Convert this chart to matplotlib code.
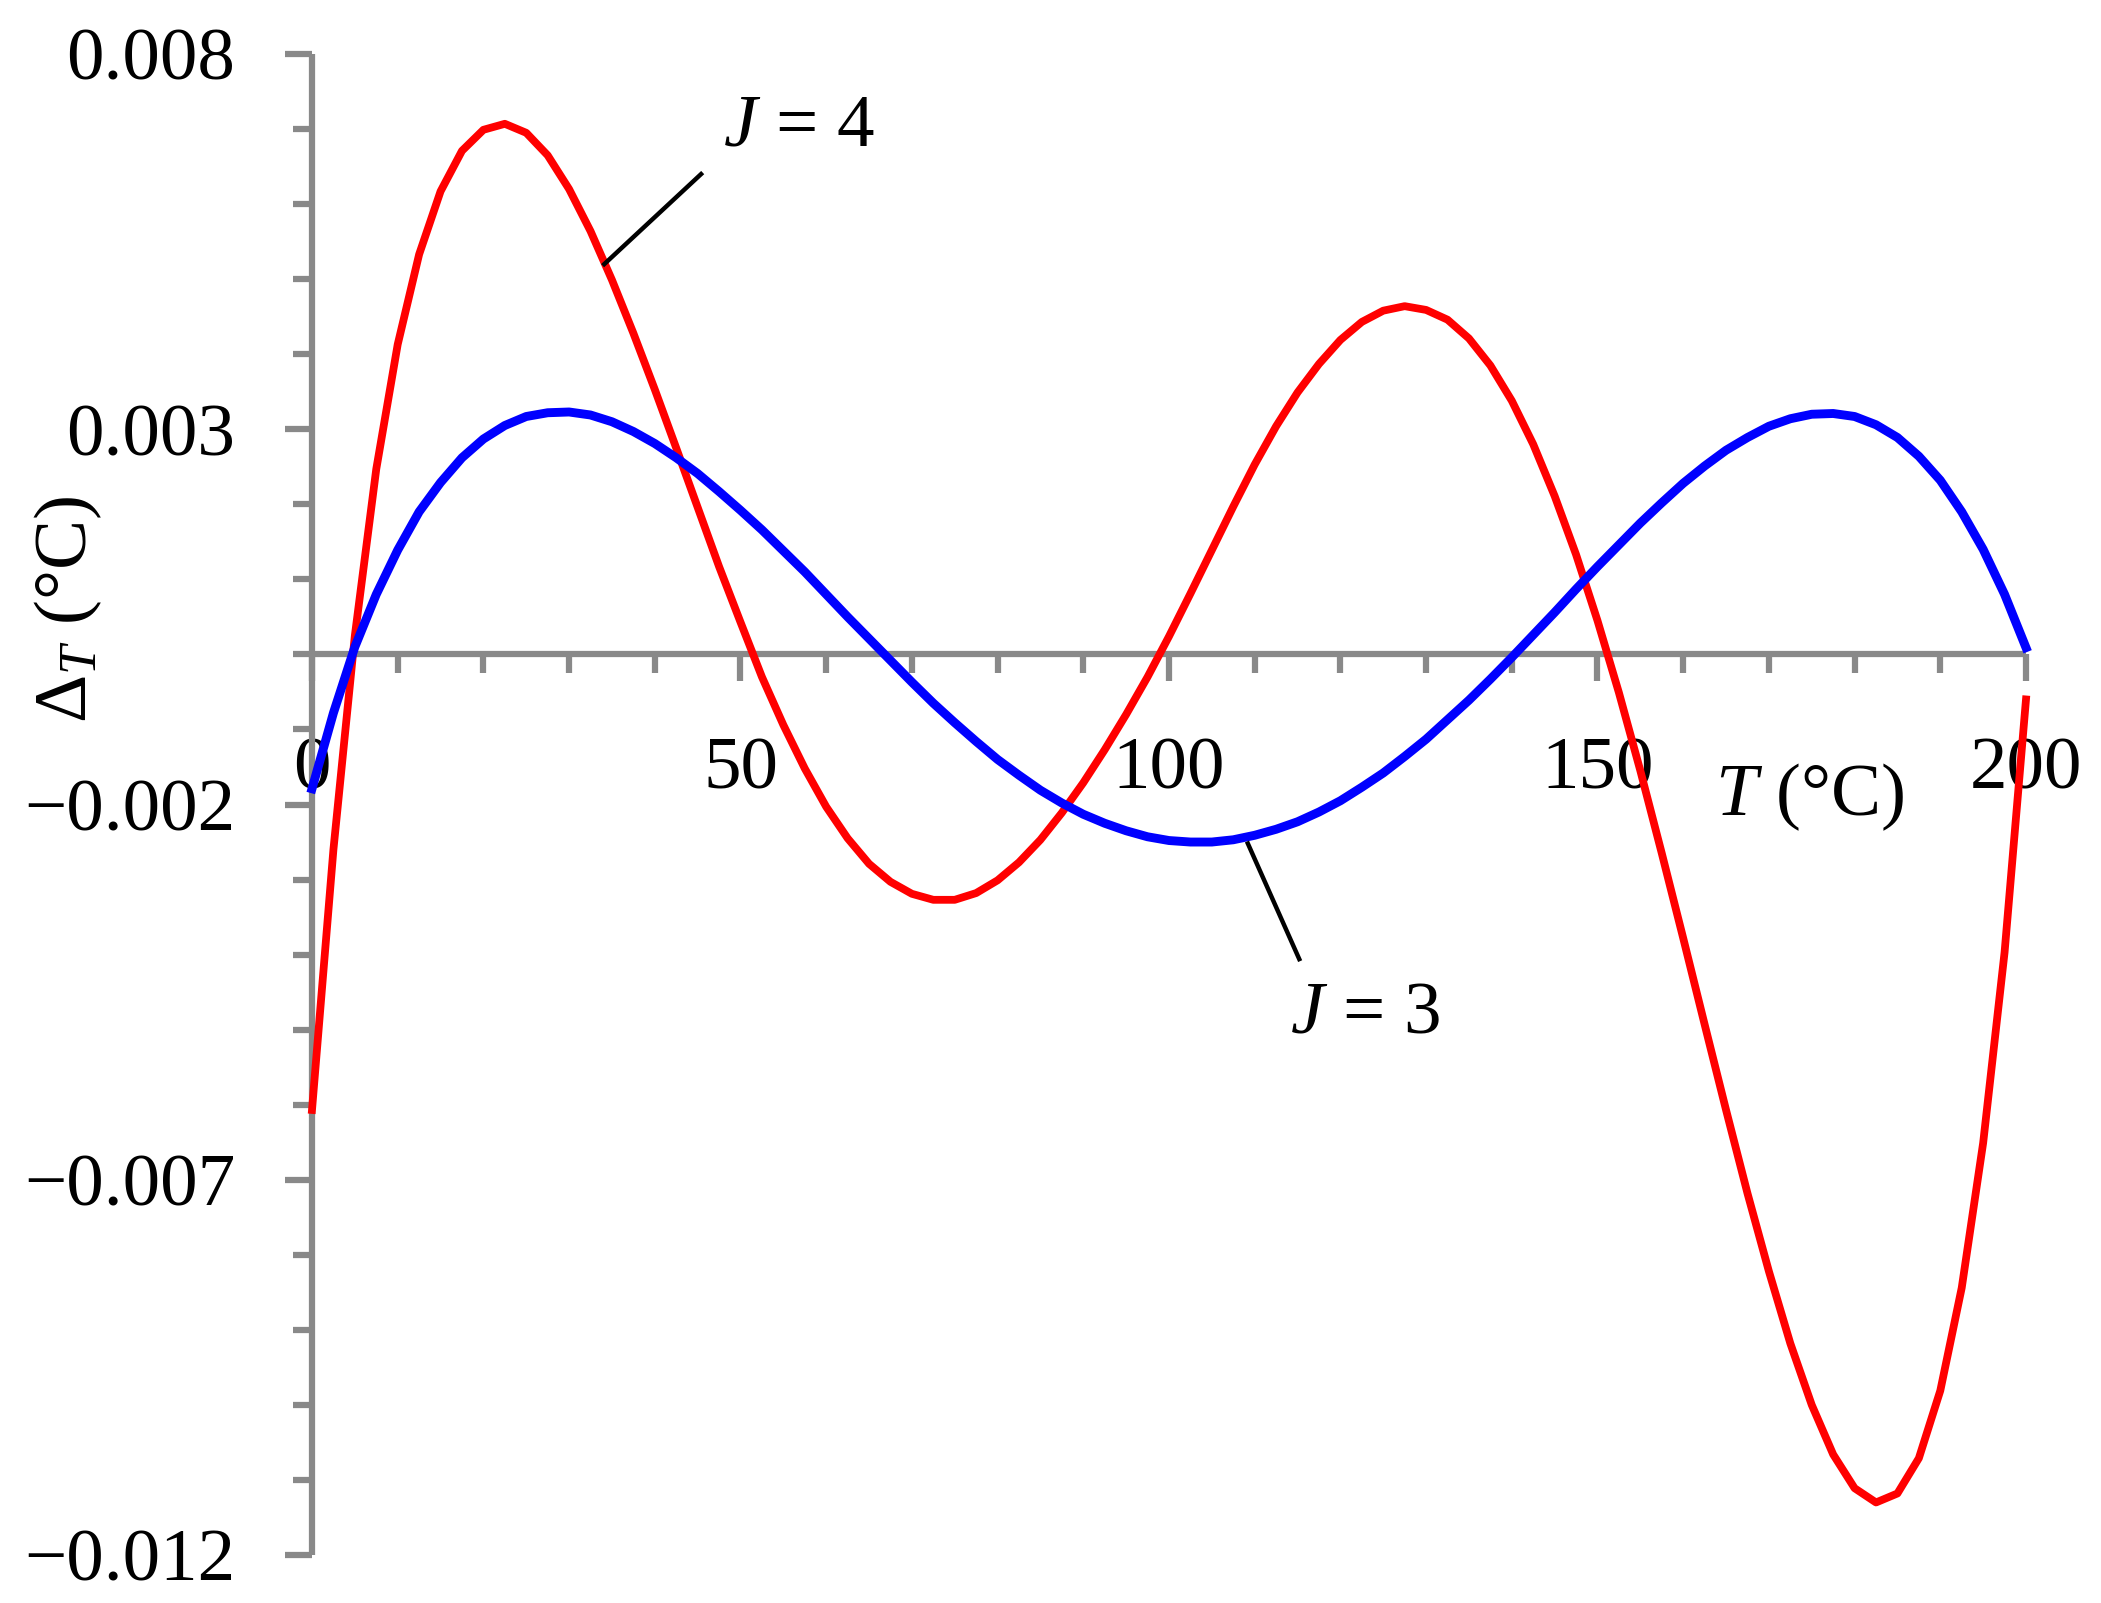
import matplotlib
matplotlib.use("Agg")
import matplotlib.pyplot as plt
from matplotlib.ticker import FixedLocator, MultipleLocator

# temperature grid (°C) and deviation
t_j4 = [0, 2.5, 5, 7.5, 10, 12.5, 15, 17.5, 20, 22.5, 25, 27.5, 30, 32.5, 35, 37.5,
        40, 42.5, 45, 47.5, 50, 52.5, 55, 57.5, 60, 62.5, 65, 67.5, 70, 72.5, 75,
        77.5, 80, 82.5, 85, 87.5, 90, 92.5, 95, 97.5, 100, 102.5, 105, 107.5, 110,
        112.5, 115, 117.5, 120, 122.5, 125, 127.5, 130, 132.5, 135, 137.5, 140,
        142.5, 145, 147.5, 150, 152.5, 155, 157.5, 160, 162.5, 165, 167.5, 170,
        172.5, 175, 177.5, 180, 182.5, 185, 187.5, 190, 192.5, 195, 197.5, 200]
d_j4 = [-0.00607, -0.00260, 0.00025, 0.00247, 0.00413, 0.00533, 0.00617, 0.00671,
        0.00699, 0.00707, 0.00695, 0.00665, 0.00620, 0.00564, 0.00499, 0.00428,
        0.00353, 0.00275, 0.00196, 0.00117, 0.00043, -0.00030, -0.00094, -0.00152,
        -0.00203, -0.00245, -0.00279, -0.00303, -0.00319, -0.00327, -0.00327,
        -0.00318, -0.00301, -0.00277, -0.00247, -0.00211, -0.00171, -0.00127,
        -0.00080, -0.00030, 0.00024, 0.00081, 0.00139, 0.00197, 0.00253, 0.00304,
        0.00349, 0.00387, 0.00419, 0.00443, 0.00458, 0.00464, 0.00459, 0.00446,
        0.00421, 0.00385, 0.00338, 0.00280, 0.00211, 0.00133, 0.00045, -0.00051,
        -0.00155, -0.00265, -0.00378, -0.00493, -0.00607, -0.00718, -0.00822,
        -0.00918, -0.01000, -0.01066, -0.01111, -0.01130, -0.01118, -0.01071,
        -0.00981, -0.00844, -0.00651, -0.00397, -0.00060]

t_j3 = t_j4
d_j3 = [-0.00179, -0.00078, 0.00010, 0.00080, 0.00139, 0.00190, 0.00229, 0.00262,
        0.00287, 0.00305, 0.00317, 0.00322, 0.00323, 0.00319, 0.00310, 0.00297,
        0.00281, 0.00262, 0.00241, 0.00217, 0.00192, 0.00166, 0.00138, 0.00110,
        0.00080, 0.00050, 0.00021, -0.00008, -0.00037, -0.00065, -0.00091,
        -0.00116, -0.00140, -0.00161, -0.00181, -0.00198, -0.00213, -0.00225,
        -0.00235, -0.00243, -0.00248, -0.00250, -0.00250, -0.00247, -0.00241,
        -0.00233, -0.00223, -0.00210, -0.00195, -0.00177, -0.00158, -0.00136,
        -0.00113, -0.00087, -0.00061, -0.00033, -0.00004, 0.00026, 0.00056,
        0.00087, 0.00117, 0.00146, 0.00175, 0.00202, 0.00228, 0.00251, 0.00272,
        0.00289, 0.00304, 0.00314, 0.00320, 0.00321, 0.00317, 0.00306, 0.00289,
        0.00264, 0.00232, 0.00190, 0.00140, 0.00080, 0.00009]

x_major = [0, 50, 100, 150, 200]
x_labels = ["0", "50", "100", "150", "200"]
y_major = [0.008, 0.003, -0.002, -0.007, -0.012]
y_labels = ["0.008", "0.003", "\u22120.002", "\u22120.007", "\u22120.012"]

plt.rcParams["font.family"] = ["Liberation Serif", "DejaVu Serif"]
plt.rcParams["font.size"] = 54
plt.rcParams["mathtext.fontset"] = "custom"
plt.rcParams["mathtext.rm"] = "Liberation Serif"
plt.rcParams["mathtext.it"] = "Liberation Serif:italic"

gray = "#898989"

fig = plt.figure(figsize=(21.01, 16.03), dpi=100)
ax = fig.add_axes([0.1485, 0.02994, 0.8158, 0.93637])

ax.plot(t_j4, d_j4, color="#FF0000", lw=5.6, zorder=3, clip_on=False,
        solid_joinstyle="round")
ax.plot(t_j3, d_j3, color="#0000FF", lw=6.4, zorder=4, clip_on=False,
        solid_joinstyle="round")

ax.set_xlim(0, 200)
ax.set_ylim(-0.012, 0.008)

for s in ["top", "right"]:
    ax.spines[s].set_visible(False)
ax.spines["bottom"].set_position(("data", 0))
for s in ["left", "bottom"]:
    ax.spines[s].set_color(gray)
    ax.spines[s].set_linewidth(4.5)
    ax.spines[s].set_capstyle("butt")

ax.xaxis.set_major_locator(FixedLocator(x_major))
ax.xaxis.set_minor_locator(MultipleLocator(10))
ax.set_xticklabels(x_labels)
ax.yaxis.set_major_locator(FixedLocator(y_major))
ax.yaxis.set_minor_locator(MultipleLocator(0.001))
ax.set_yticklabels(y_labels)

ax.tick_params(which="major", direction="out", length=19.5, width=4.5, color=gray)
ax.tick_params(which="minor", direction="out", length=14, width=4.5, color=gray)
ax.tick_params(axis="x", which="major", pad=40)
ax.tick_params(axis="y", which="major", pad=36)

ax.set_xlabel(r"$T$ (°C)", va="center")
ax.xaxis.set_label_coords(0.874, 0.505)
ax.set_ylabel(r"$\Delta_{T}$ (°C)", va="center")
ax.yaxis.set_label_coords(-0.142, 0.630)

# leader labels
ax.text(56.8, 0.00702, r"$J$ = 4", ha="center", va="center")
ax.plot([34.1, 45.4], [0.0052, 0.0064], color="black", lw=3.2, zorder=5)
ax.text(122.8, -0.0048, r"$J$ = 3", ha="center", va="center")
ax.plot([109.2, 115.2], [-0.00252, -0.00406], color="black", lw=3.2, zorder=5)

fig.savefig("out.png", dpi=100)
